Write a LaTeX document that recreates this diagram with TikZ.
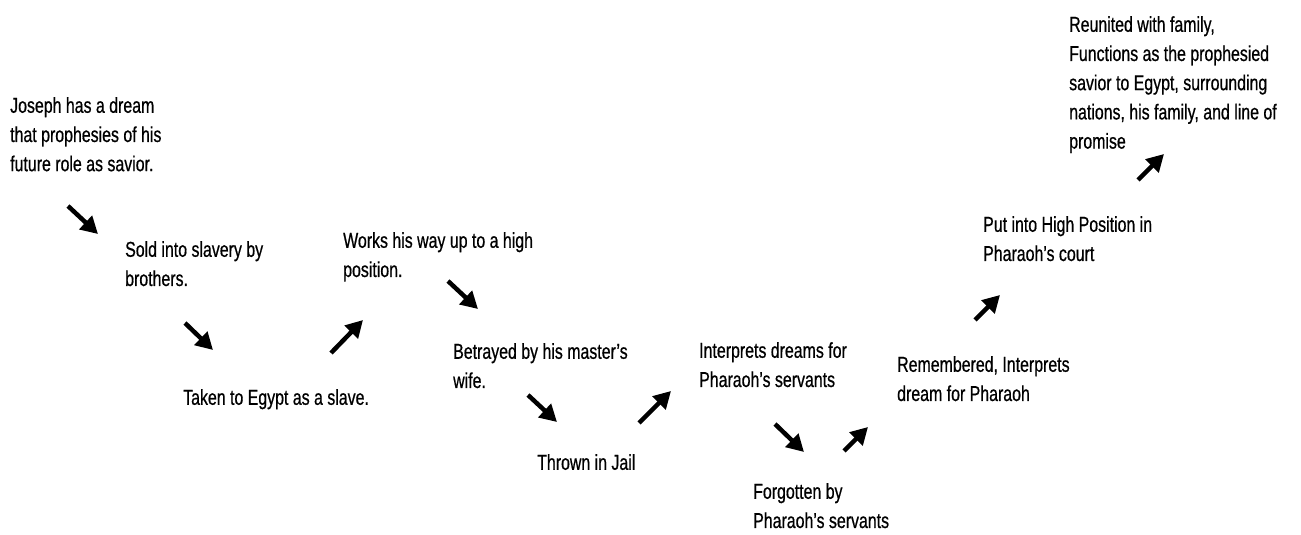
\documentclass[tikz,border=0pt]{standalone}
\usepackage{fontspec}
\setmainfont{Liberation Sans}[FakeStretch=0.74,FakeBold=0.6]
\usetikzlibrary{arrows.meta}
\begin{document}
\begin{tikzpicture}[x=1pt,y=-1pt,
  lbl/.style={anchor=north west,inner sep=0pt,align=left,font=\fontsize{21.5}{29.2}\selectfont},
  arr/.style={line width=4.5pt,-{Triangle[length=17pt,width=18pt]}}]
\useasboundingbox[fill=white] (0,0) rectangle (1301,535);
\node[lbl] (t1) at (10,97) {Joseph has a dream\\that prophesies of his\\future role as savior.};
\node[lbl] (t2) at (125,241) {Sold into slavery by\\brothers.};
\node[lbl] (t3) at (183,389) {Taken to Egypt as a slave.};
\node[lbl] (t4) at (343,232) {Works his way up to a high\\position.};
\node[lbl] (t5) at (453,343) {Betrayed by his master’s\\wife.};
\node[lbl] (t6) at (537,454) {Thrown in Jail};
\node[lbl] (t7) at (699,342) {Interprets dreams for\\Pharaoh’s servants};
\node[lbl] (t8) at (753,483) {Forgotten by\\Pharaoh’s servants};
\node[lbl] (t9) at (897,356) {Remembered, Interprets\\dream for Pharaoh};
\node[lbl] (t10) at (983,216) {Put into High Position in\\Pharaoh’s court};
\node[lbl] (t11) at (1069,16) {Reunited with family,\\Functions as the prophesied\\savior to Egypt, surrounding\\nations, his family, and line of\\promise};
\coordinate (a1s) at (68,206); \coordinate (a1e) at (98,234);
\coordinate (a2s) at (185,323); \coordinate (a2e) at (213,350);
\coordinate (a3s) at (331,353); \coordinate (a3e) at (363,320);
\coordinate (a4s) at (448,281); \coordinate (a4e) at (478,309);
\coordinate (a5s) at (528,395); \coordinate (a5e) at (557,422);
\coordinate (a6s) at (639,423); \coordinate (a6e) at (671,391);
\coordinate (a7s) at (775,424); \coordinate (a7e) at (804,452);
\coordinate (a8s) at (844,451); \coordinate (a8e) at (868,427);
\coordinate (a9s) at (975,320); \coordinate (a9e) at (1000,295);
\coordinate (a10s) at (1138,180); \coordinate (a10e) at (1164,154);
\foreach \i in {1,...,10}{\draw[arr] (a\i s) -- (a\i e);}
\end{tikzpicture}
\end{document}
